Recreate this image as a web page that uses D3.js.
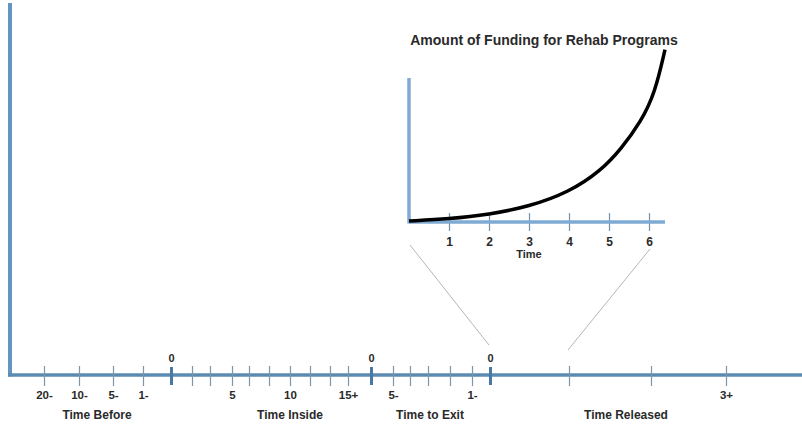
<!DOCTYPE html>
<html>
<head>
<meta charset="utf-8">
<script src="https://cdn.jsdelivr.net/npm/d3@7"></script>
<style>
  body { margin: 0; background: #fff; }
  svg { display: block; font-family: "Liberation Sans", Arial, sans-serif; }
  .lbl { font-weight: bold; fill: #2a2a2a; }
</style>
</head>
<body>
<div id="chart"></div>
<script>
// timeline data (positions on the timeline in tick units, 0 = start of sentence)
var minorTicks  = [-6.35, -4.6, -2.9, -1.4, 1.05, 1.95, 3.05, 3.9, 4.9, 5.95, 6.95, 7.95, 8.85, 11.1, 11.95, 12.85, 13.95, 15.05, 19.9, 24, 27.75];
var minorLabels = ["20-", "10-", "5-", "1-", "", "", "5", "", "", "10", "", "", "15+", "5-", "", "", "", "1-", "", "", "3+"];
var majorTicks  = [0, 10, 15.95];
var majorLabels = ["0", "0", "0"];
var groups      = ["Time Before", "Time Inside", "Time to Exit", "Time Released"];
var groupCenters = [-3.7, 5.95, 12.95, 22.75];

// inset: funding over time
var fundTime  = [0, 1, 2, 3, 4, 4.8, 5.3, 5.8, 6.15, 6.4];
var fundValue = [0, 0.15, 0.45, 1.0, 2.0, 3.5, 5.0, 6.9, 8.9, 11.9];
var insetTicks = [1, 2, 3, 4, 5, 6];
var insetTitle = "Amount of Funding for Rehab Programs";

var width = 802, height = 428;
var axisY = 375;

var svg = d3.select("#chart").append("svg")
    .attr("width", width)
    .attr("height", height);

var x = d3.scaleLinear().domain([-8, 31.55]).range([11, 802]);

// main axes lines
svg.append("line")
    .attr("x1", 10).attr("x2", 10)
    .attr("y1", 3).attr("y2", axisY + 1.5)
    .attr("stroke", "#6394c2").attr("stroke-width", 4);
svg.append("line")
    .attr("x1", 8).attr("x2", width)
    .attr("y1", axisY).attr("y2", axisY)
    .attr("stroke", "#5b8bb2").attr("stroke-width", 3.5);

// minor ticks with labels underneath
var minorAxis = d3.axisBottom(x)
    .tickValues(minorTicks)
    .tickSize(20)
    .tickSizeOuter(0)
    .tickPadding(5)
    .tickFormat(function(d, i) { return minorLabels[i]; });

var gMinor = svg.append("g")
    .attr("transform", "translate(0," + (axisY - 9) + ")")
    .call(minorAxis);
gMinor.select(".domain").remove();
gMinor.selectAll("line").attr("stroke", "#7d97aa").attr("stroke-width", 1.2);
gMinor.selectAll("text").attr("class", "lbl").attr("font-size", 11.5);

// major ticks (sentence boundaries), labelled on top
var majorAxis = d3.axisTop(x)
    .tickValues(majorTicks)
    .tickSize(18)
    .tickSizeOuter(0)
    .tickPadding(5)
    .tickFormat(function(d, i) { return majorLabels[i]; });

var gMajor = svg.append("g")
    .attr("transform", "translate(0," + (axisY + 10) + ")")
    .call(majorAxis);
gMajor.select(".domain").remove();
gMajor.selectAll("line").attr("stroke", "#4a7aa3").attr("stroke-width", 3);
gMajor.selectAll("text").attr("class", "lbl").attr("font-size", 11);

// group labels
svg.append("g").selectAll("text")
    .data(groups)
    .enter().append("text")
    .attr("class", "lbl")
    .attr("x", function(d, i) { return x(groupCenters[i]); })
    .attr("y", 419)
    .attr("text-anchor", "middle")
    .attr("font-size", 12)
    .text(function(d) { return d; });

// inset chart
var ix = d3.scaleLinear().domain([0, 6.4]).range([409, 665]);
var iy = d3.scaleLinear().domain([0, 10]).range([222, 78]);

// zoom connector lines
svg.append("line")
    .attr("x1", ix(0) + 1).attr("y1", 245)
    .attr("x2", x(15.95) - 1).attr("y2", 345)
    .attr("stroke", "#b5b5b5").attr("stroke-width", 1);
svg.append("line")
    .attr("x1", ix(6) + 1).attr("y1", 249)
    .attr("x2", x(19.9) - 1).attr("y2", 350)
    .attr("stroke", "#b5b5b5").attr("stroke-width", 1);

svg.append("text")
    .attr("class", "lbl")
    .attr("x", 544)
    .attr("y", 45)
    .attr("text-anchor", "middle")
    .attr("font-size", 14)
    .attr("fill", "#111")
    .text(insetTitle);

var insetAxis = d3.axisBottom(ix)
    .tickValues(insetTicks)
    .tickSize(18)
    .tickSizeOuter(0)
    .tickPadding(6)
    .tickFormat(d3.format("d"));

var gInset = svg.append("g")
    .attr("transform", "translate(0,213)")
    .call(insetAxis);
gInset.select(".domain").remove();
gInset.selectAll("line").attr("stroke", "#7390a8").attr("stroke-width", 1.2);
gInset.selectAll("text").attr("class", "lbl").attr("font-size", 12);

svg.append("line")
    .attr("x1", ix(0)).attr("x2", ix(0))
    .attr("y1", iy(10)).attr("y2", iy(0) + 1.5)
    .attr("stroke", "#7eaad3").attr("stroke-width", 3.5);
svg.append("line")
    .attr("x1", ix(0)).attr("x2", ix(6.4))
    .attr("y1", iy(0)).attr("y2", iy(0))
    .attr("stroke", "#7eaad3").attr("stroke-width", 3.5);

svg.append("text")
    .attr("class", "lbl")
    .attr("x", ix(3))
    .attr("y", 258)
    .attr("text-anchor", "middle")
    .attr("font-size", 11)
    .text("Time");

var fundLine = d3.line()
    .x(function(d, i) { return ix(fundTime[i]); })
    .y(function(d) { return iy(d) - 1; })
    .curve(d3.curveBasis);

svg.append("path")
    .datum(fundValue)
    .attr("d", fundLine)
    .attr("fill", "none")
    .attr("stroke", "#000")
    .attr("stroke-width", 3.5);
</script>
</body>
</html>
